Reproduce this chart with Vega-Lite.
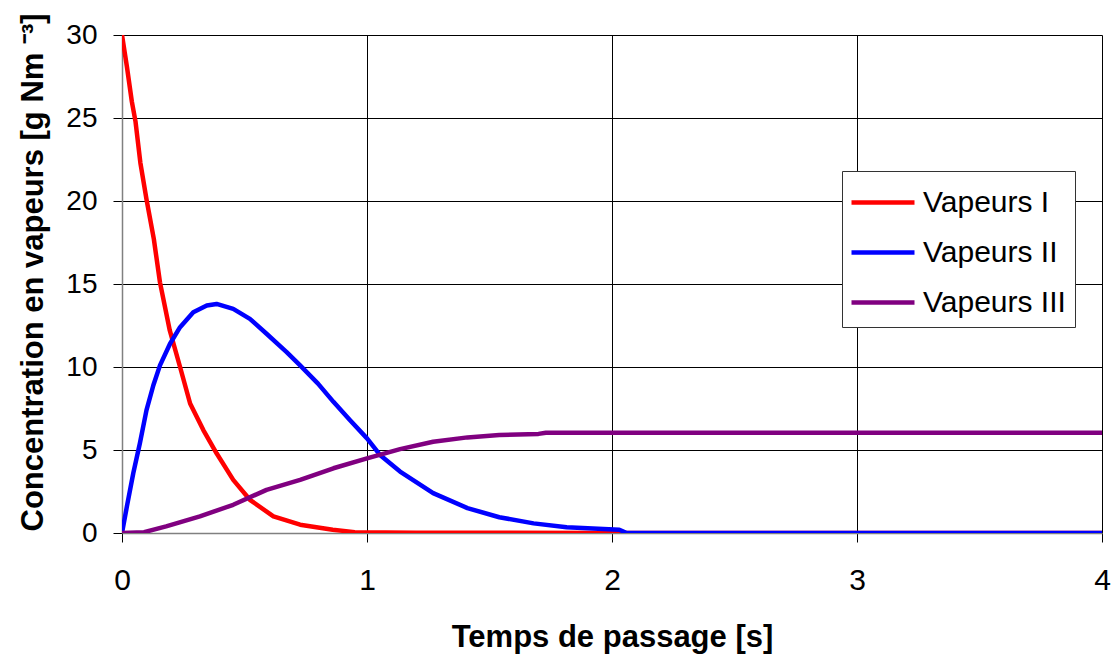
{
  "$schema": "https://vega.github.io/schema/vega-lite/v6.json",
  "width": 980,
  "height": 498,
  "autosize": {"type": "none"},
  "padding": {"left": 122, "top": 35, "right": 15, "bottom": 123},
  "background": "white",
  "config": {
    "view": {"stroke": null},
    "font": "Liberation Sans",
    "axis": {
      "labelFont": "Liberation Sans",
      "titleFont": "Liberation Sans",
      "labelColor": "#000",
      "titleColor": "#000",
      "gridColor": "#000",
      "gridOpacity": 1,
      "gridWidth": 1,
      "tickColor": "#000",
      "tickWidth": 1,
      "domainColor": "#808080",
      "domainWidth": 1.5,
      "labelFlush": false
    },
    "legend": {"labelFont": "Liberation Sans"}
  },
  "data": {
    "values": [
      {"t": 0, "c": 30, "s": "Vapeurs I"},
      {"t": 0.02, "c": 28.1, "s": "Vapeurs I"},
      {"t": 0.04, "c": 26, "s": "Vapeurs I"},
      {"t": 0.055, "c": 24.8, "s": "Vapeurs I"},
      {"t": 0.075, "c": 22.3, "s": "Vapeurs I"},
      {"t": 0.1, "c": 20.1, "s": "Vapeurs I"},
      {"t": 0.13, "c": 17.7, "s": "Vapeurs I"},
      {"t": 0.155, "c": 15.1, "s": "Vapeurs I"},
      {"t": 0.195, "c": 12.2, "s": "Vapeurs I"},
      {"t": 0.237, "c": 10, "s": "Vapeurs I"},
      {"t": 0.278, "c": 7.8, "s": "Vapeurs I"},
      {"t": 0.332, "c": 6.2, "s": "Vapeurs I"},
      {"t": 0.386, "c": 4.8, "s": "Vapeurs I"},
      {"t": 0.454, "c": 3.2, "s": "Vapeurs I"},
      {"t": 0.522, "c": 2.0, "s": "Vapeurs I"},
      {"t": 0.618, "c": 1.0, "s": "Vapeurs I"},
      {"t": 0.727, "c": 0.5, "s": "Vapeurs I"},
      {"t": 0.86, "c": 0.2, "s": "Vapeurs I"},
      {"t": 0.95, "c": 0.05, "s": "Vapeurs I"},
      {"t": 1.2, "c": 0.02, "s": "Vapeurs I"},
      {"t": 2, "c": 0, "s": "Vapeurs I"},
      {"t": 4, "c": 0, "s": "Vapeurs I"},
      {"t": 0, "c": 0, "s": "Vapeurs II"},
      {"t": 0.02, "c": 1.6, "s": "Vapeurs II"},
      {"t": 0.046, "c": 3.6, "s": "Vapeurs II"},
      {"t": 0.073, "c": 5.4, "s": "Vapeurs II"},
      {"t": 0.1, "c": 7.4, "s": "Vapeurs II"},
      {"t": 0.128, "c": 8.9, "s": "Vapeurs II"},
      {"t": 0.155, "c": 10.1, "s": "Vapeurs II"},
      {"t": 0.196, "c": 11.4, "s": "Vapeurs II"},
      {"t": 0.237, "c": 12.4, "s": "Vapeurs II"},
      {"t": 0.291, "c": 13.3, "s": "Vapeurs II"},
      {"t": 0.346, "c": 13.7, "s": "Vapeurs II"},
      {"t": 0.386, "c": 13.8, "s": "Vapeurs II"},
      {"t": 0.454, "c": 13.5, "s": "Vapeurs II"},
      {"t": 0.522, "c": 12.9, "s": "Vapeurs II"},
      {"t": 0.59, "c": 12.0, "s": "Vapeurs II"},
      {"t": 0.672, "c": 10.9, "s": "Vapeurs II"},
      {"t": 0.727, "c": 10.1, "s": "Vapeurs II"},
      {"t": 0.8, "c": 9.0, "s": "Vapeurs II"},
      {"t": 0.863, "c": 7.9, "s": "Vapeurs II"},
      {"t": 0.93, "c": 6.8, "s": "Vapeurs II"},
      {"t": 1.0, "c": 5.7, "s": "Vapeurs II"},
      {"t": 1.053, "c": 4.7, "s": "Vapeurs II"},
      {"t": 1.135, "c": 3.7, "s": "Vapeurs II"},
      {"t": 1.27, "c": 2.4, "s": "Vapeurs II"},
      {"t": 1.41, "c": 1.5, "s": "Vapeurs II"},
      {"t": 1.54, "c": 0.95, "s": "Vapeurs II"},
      {"t": 1.68, "c": 0.58, "s": "Vapeurs II"},
      {"t": 1.815, "c": 0.34, "s": "Vapeurs II"},
      {"t": 2.03, "c": 0.2, "s": "Vapeurs II"},
      {"t": 2.06, "c": 0, "s": "Vapeurs II"},
      {"t": 4, "c": 0, "s": "Vapeurs II"},
      {"t": 0, "c": 0, "s": "Vapeurs III"},
      {"t": 0.09, "c": 0.05, "s": "Vapeurs III"},
      {"t": 0.18, "c": 0.4, "s": "Vapeurs III"},
      {"t": 0.318, "c": 1.0, "s": "Vapeurs III"},
      {"t": 0.454, "c": 1.7, "s": "Vapeurs III"},
      {"t": 0.59, "c": 2.6, "s": "Vapeurs III"},
      {"t": 0.727, "c": 3.2, "s": "Vapeurs III"},
      {"t": 0.863, "c": 3.9, "s": "Vapeurs III"},
      {"t": 1.0, "c": 4.5, "s": "Vapeurs III"},
      {"t": 1.135, "c": 5.05, "s": "Vapeurs III"},
      {"t": 1.27, "c": 5.5, "s": "Vapeurs III"},
      {"t": 1.41, "c": 5.76, "s": "Vapeurs III"},
      {"t": 1.54, "c": 5.9, "s": "Vapeurs III"},
      {"t": 1.7, "c": 5.97, "s": "Vapeurs III"},
      {"t": 1.73, "c": 6.04, "s": "Vapeurs III"},
      {"t": 4, "c": 6.04, "s": "Vapeurs III"}
    ]
  },
  "mark": {"type": "line", "strokeWidth": 4.5, "strokeJoin": "round", "clip": true},
  "encoding": {
    "x": {
      "field": "t",
      "type": "quantitative",
      "scale": {"domain": [0, 4], "nice": false, "zero": false},
      "axis": {
        "values": [0, 1, 2, 3, 4],
        "format": "d",
        "tickSize": 9,
        "labelPadding": 23,
        "labelFontSize": 30,
        "title": "Temps de passage [s]",
        "titleFontSize": 31,
        "titleFontWeight": "bold",
        "titleBaseline": "alphabetic",
        "titleAnchor": "middle",
        "titleY": 113
      }
    },
    "y": {
      "field": "c",
      "type": "quantitative",
      "scale": {"domain": [0, 30], "nice": false},
      "axis": {
        "values": [0, 5, 10, 15, 20, 25, 30],
        "tickSize": 9,
        "labelPadding": 16,
        "labelFontSize": 28,
        "title": "Concentration en vapeurs [g Nm  ⁻³]",
        "titleFontSize": 31,
        "titleFontWeight": "bold",
        "titleAngle": -90,
        "titleBaseline": "alphabetic",
        "titleAlign": "left",
        "titleX": -80,
        "titleY": 496
      }
    },
    "color": {
      "field": "s",
      "type": "nominal",
      "scale": {"domain": ["Vapeurs I", "Vapeurs II", "Vapeurs III"], "range": ["#FF0000", "#0000FF", "#800080"]},
      "legend": {
        "title": null,
        "orient": "none",
        "legendX": 720,
        "legendY": 136,
        "padding": 9,
        "fillColor": "white",
        "strokeColor": "#333",
        "symbolType": "M-1.1,0H2.05",
        "symbolSize": 1600,
        "symbolStrokeWidth": 4.5,
        "labelFontSize": 30,
        "labelColor": "#000",
        "labelOffset": 27,
        "labelLimit": 400,
        "rowPadding": 12
      }
    }
  }
}
